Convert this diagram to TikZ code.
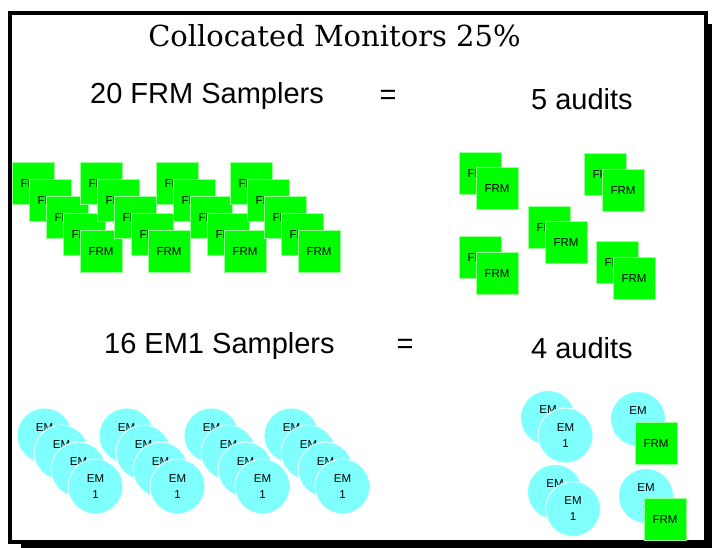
\documentclass[tikz,border=0pt]{standalone}
\usepackage{fontspec}
\setmainfont{Liberation Sans}
\newfontfamily\titlefont{DejaVu Serif}
\definecolor{frmgreen}{HTML}{00FF00}
\definecolor{emcyan}{HTML}{80FFFF}
\newcommand{\frmlabel}{\raisebox{-1pt}[\height][0pt]{FRM}}
\begin{document}
\begin{tikzpicture}[x=1pt,y=-1pt,
  frm/.style={rectangle, minimum size=42pt, inner sep=0pt, fill=frmgreen, draw=white!60!frmgreen, line width=0.6pt, font=\fontsize{11.5}{12}\selectfont},
  em/.style={circle, minimum size=55pt, inner sep=0pt, fill=emcyan, draw=white, line width=0.8pt, font=\fontsize{11.5}{16}\selectfont, align=center},
  big/.style={font=\fontsize{29}{32}\selectfont, inner sep=0pt},
  ttl/.style={font=\titlefont\fontsize{29}{32}\selectfont, inner sep=0pt}]
\useasboundingbox (0,0) rectangle (712,548);
% frame with shadow
\fill[black] (21,24) rectangle (712,548);
\draw[line width=4pt, fill=white] (10,13) rectangle (706,542);
% title and labels
\node[ttl, anchor=base] (title) at (334.5,47) {Collocated Monitors 25\%};
\node[big, anchor=base west] (t1) at (90,104) {20 FRM Samplers};
\node[big, anchor=base] (eq1) at (388,105) {=};
\node[big, anchor=base west] (a1) at (531,110) {5 audits};
\node[big, anchor=base west] (t2) at (104,353) {16 EM1 Samplers};
\node[big, anchor=base] (eq2) at (405,353) {=};
\node[big, anchor=base west] (a2) at (531,358) {4 audits};
% 20 FRM samplers
\foreach \gx [count=\g] in {12,80,156,230}
  \foreach \k in {0,...,4}
    \node[frm] (f\g-\k) at (\gx+21+17*\k, 183+17*\k) {\frmlabel};
% 5 audits
\node[frm] (ra1) at (480,173) {\frmlabel};
\node[frm] (ra2) at (497,188) {\frmlabel};
\node[frm] (rb1) at (605,174) {\frmlabel};
\node[frm] (rb2) at (623,190) {\frmlabel};
\node[frm] (rc1) at (549,227) {\frmlabel};
\node[frm] (rc2) at (566,242) {\frmlabel};
\node[frm] (rd1) at (480,257) {\frmlabel};
\node[frm] (rd2) at (497,273) {\frmlabel};
\node[frm] (re1) at (617,262) {\frmlabel};
\node[frm] (re2) at (634,278) {\frmlabel};
% 16 EM1 samplers
\foreach \gx [count=\g] in {44.5,126.5,211.5,291.5}
  \foreach \k in {0,...,3}
    \node[em] (e\g-\k) at (\gx+17*\k, 435.5+17*\k) {EM\\1};
% 4 audits
\node[em] (ca1) at (548,418) {EM\\1};
\node[em] (ca2) at (565.5,435.5) {EM\\1};
\node[em] (cb1) at (638,419) {EM\\1};
\node[frm] (cb2) at (656,443) {\frmlabel};
\node[em] (cc1) at (555,492) {EM\\1};
\node[em] (cc2) at (573,509) {EM\\1};
\node[em] (cd1) at (646,496) {EM\\1};
\node[frm] (cd2) at (665,519) {\frmlabel};
\end{tikzpicture}
\end{document}
